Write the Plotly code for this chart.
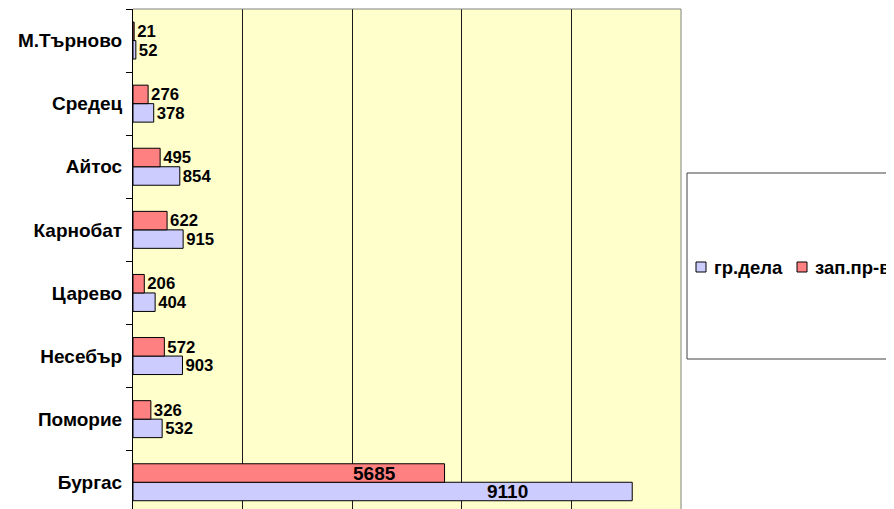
import plotly.graph_objects as go

categories = ["Бургас", "Поморие", "Несебър", "Царево", "Карнобат", "Айтос", "Средец", "М.Търново"]
gr_dela = [9110, 532, 903, 404, 915, 854, 378, 52]
zap_pr = [5685, 326, 572, 206, 622, 495, 276, 21]
series_names = ["гр.дела", "зап.пр-во"]
x_ticks = [0, 2000, 4000, 6000, 8000, 10000]

# labels drawn inside the long bars (fraction of bar length where label centre sits)
inside_idx = 0
inside_frac = [0.75, 0.776]

FONT = "Liberation Sans, Arial, sans-serif"
BLUE = "#CCCCFF"
RED = "#FF8080"
COLORS = [BLUE, RED]
BARGAP = 0.414
FS = 19

# page is shown with an 8px body margin; layout below is in screen pixels
PAGE_OFF = 8
PLOT_L, PLOT_R, PLOT_T, PLOT_B = 133, 681, 9, 509


def px_x(x):
    return (x - PLOT_L) / (PLOT_R - PLOT_L)


def px_y(y):
    return (PLOT_B - y) / (PLOT_B - PLOT_T)


def labels(vals):
    return ["" if i == inside_idx else str(v) for i, v in enumerate(vals)]


fig = go.Figure()
for name, vals, col in [(series_names[0], gr_dela, BLUE), (series_names[1], zap_pr, RED)]:
    fig.add_trace(go.Bar(
        y=categories, x=vals, orientation="h", name=name,
        marker=dict(color=col, line=dict(color="#000000", width=1)),
        text=labels(vals), textposition="outside", cliponaxis=False,
        textfont=dict(family=FONT, size=FS, color="#000000", weight="bold"),
    ))

off = (1 - BARGAP) / 4
for vals, frac, dy in [(gr_dela, inside_frac[0], -off), (zap_pr, inside_frac[1], off)]:
    v = vals[inside_idx]
    fig.add_annotation(x=v * frac, y=inside_idx + dy, xref="x", yref="y",
                       text=str(v), showarrow=False,
                       font=dict(family=FONT, size=FS, color="#000000", weight="bold"))

# grey plot-area border on top and right
fig.add_shape(type="line", xref="paper", yref="paper", x0=0, x1=1, y0=1, y1=1,
              line=dict(color="#808080", width=1))
fig.add_shape(type="line", xref="paper", yref="paper", x0=1, x1=1, y0=0, y1=1,
              line=dict(color="#808080", width=1))

# legend frame (partially cut by the right edge)
fig.add_shape(type="rect", xref="paper", yref="paper",
              x0=px_x(687), x1=px_x(1000), y0=px_y(359), y1=px_y(173),
              line=dict(color="#404040", width=1), fillcolor="rgba(0,0,0,0)")
# legend entries
legend_pos = [(696, 712), (797, 813)]
for (sq_x, tx_x), name, col in zip(legend_pos, series_names, COLORS):
    fig.add_shape(type="rect", xref="paper", yref="paper",
                  x0=px_x(sq_x), x1=px_x(sq_x + 10), y0=px_y(272), y1=px_y(262),
                  line=dict(color="#000000", width=1), fillcolor=col)
    fig.add_annotation(x=px_x(tx_x), y=px_y(267.5), xref="paper", yref="paper",
                       xanchor="left", yanchor="middle", text=name, showarrow=False,
                       font=dict(family=FONT, size=18.5, color="#000000", weight="bold"))

cat_px = (PLOT_B - PLOT_T) / 63.1
fig.update_layout(
    width=894 - PAGE_OFF, height=509 - PAGE_OFF,
    margin=dict(l=PLOT_L - PAGE_OFF, r=894 - PLOT_R, t=PLOT_T - PAGE_OFF, b=0),
    paper_bgcolor="#FFFFFF", plot_bgcolor="#FFFFCC",
    barmode="group", bargap=BARGAP, bargroupgap=0,
    font=dict(family=FONT, size=14, color="#000000"),
    showlegend=False,
    xaxis=dict(range=[0, 10000], tickvals=x_ticks, showticklabels=False,
               showgrid=True, gridcolor="#1a1a1a", gridwidth=1,
               zeroline=False, showline=False, ticks=""),
    yaxis=dict(categoryorder="array", categoryarray=categories,
               range=[7.5 - cat_px, 7.5], showgrid=False, zeroline=False,
               showline=True, linecolor="#000000", linewidth=1,
               ticks="outside", tickson="boundaries", ticklen=6, tickcolor="#000000",
               tickfont=dict(family=FONT, size=FS, color="#000000", weight="bold"),
               ticklabelstandoff=6),
)

fig.write_html("out.html")
